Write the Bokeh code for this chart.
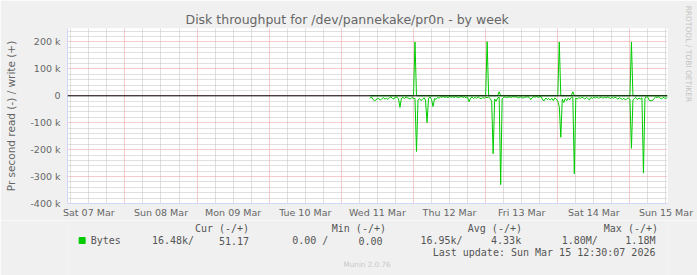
import math
from bokeh.plotting import figure
from bokeh.layouts import column
from bokeh.models import Range1d, FixedTicker, Label, Span, ColumnDataSource
from bokeh.embed import file_html
from bokeh.resources import INLINE

# ---------------- data ----------------
title_text = "Disk throughput for /dev/pannekake/pr0n - by week"
y_label_text = "Pr second read (-) / write (+)"
day_labels = ["Sat 07 Mar", "Sun 08 Mar", "Mon 09 Mar", "Tue 10 Mar", "Wed 11 Mar",
              "Thu 12 Mar", "Fri 13 Mar", "Sat 14 Mar", "Sun 15 Mar"]
y_tick_values = [-400000, -300000, -200000, -100000, 0, 100000, 200000]
y_tick_labels = ["-400 k", "-300 k", "-200 k", "-100 k", "0", "100 k", "200 k"]

# samples every 30 min, first sample Wed 11 Mar 09:30 (hours counted from Sat 07 Mar 00:00)
series_start_h = 105.5
step_h = 0.5
# read bytes/s in k (plotted negative)
read_k = [10, 4, 13, 18, 16, 9, 11, 16, 10, 7,
          12, 9, 13, 7, 4, 10, 12, 4, 6, 10,
          43, 9, 6, 10, 4, 7, 10, 12, 6, 9,
          10, 207, 16, 10, 18, 13, 7, 16, 100, 10,
          4, 13, 40, 10, 13, 6, 9, 4,
          5, 3, 6, 4, 7, 3, 5, 4, 6, 3,
          5, 7, 4, 3, 6, 4, 8, 5, 22, 8,
          5, 10, 6, 9, 4, 8, 11, 6, 9, 5,
          7, 4, 10, 20, 215, 12, 20, 8, 5, 330,
          10, 6, 4, 7, 5, 4, 6, 3, 5, 4,
          5, 8, 4, 6, 9, 5, 5, 4, 6, 14,
          7, 4, 5, 3, 6, 4, 3, 16, 18, 8,
          14, 10, 16, 9, 18, 8, 12, 20, 40, 154,
          12, 25, 10, 18, 8, 15, 6, 4, 290, 8,
          12, 6, 10, 5, 8, 12, 6, 10, 15, 6,
          10, 6, 8, 5, 9, 7, 5, 9, 6, 8,
          5, 7, 10, 6, 9, 5, 8, 12, 7, 10,
          14, 9, 16, 10, 8, 12, 195, 15, 10, 6,
          14, 8, 12, 7, 287, 8, 4, 6, 18, 18,
          18, 10, 5, 6, 4, 8, 12, 6, 8, 10,
          5]
# write bytes/s in k
write_k = [0.2, 0.1, 0.3, 0.2, 0.1, 0.2, 0.4, 0.2, 0.1, 0.3,
           0.2, 0.1, 0.2, 0.3, 0.1, 0.2, 0.5, 0.2, 0.1, 0.2,
           0.3, 0.2, 0.1, 0.2, 0.4, 0.2, 0.1, 0.3, 0.2, 0.1,
           200.0, 0.4, 0.2, 0.3, 0.1, 0.2, 0.6, 0.2, 0.1, 0.3,
           0.2, 0.1, 0.2, 0.3, 0.2, 0.1, 0.2, 0.4, 0.2, 0.1,
           0.3, 0.2, 0.1, 0.2, 0.3, 0.1, 0.2, 0.2, 0.4, 0.1,
           0.2, 0.3, 0.1, 0.2, 0.2, 0.1, 0.3, 0.2, 0.1, 0.2,
           0.4, 0.2, 0.1, 0.3, 0.2, 0.1, 0.2, 0.3, 201.0, 0.5,
           0.2, 0.1, 0.3, 0.2, 0.4, 0.2, 15.0, 0.3, 0.2, 0.1,
           0.2, 0.3, 0.1, 0.2, 0.2, 0.1, 0.3, 0.2, 0.1, 0.2,
           0.3, 0.1, 0.2, 0.2, 0.4, 0.1, 0.2, 0.3, 0.1, 0.2,
           0.2, 0.1, 0.3, 0.2, 0.1, 0.2, 0.4, 0.2, 0.1, 0.3,
           0.2, 0.1, 0.2, 0.3, 0.2, 0.1, 200.0, 0.4, 0.2, 0.3,
           0.1, 0.2, 0.3, 0.2, 0.1, 15.0, 0.3, 0.2, 0.1, 0.2,
           0.3, 0.2, 0.1, 0.2, 0.4, 0.2, 0.1, 0.3, 0.2, 0.1,
           0.2, 0.3, 0.1, 0.2, 0.2, 0.1, 0.3, 0.2, 0.1, 0.2,
           0.4, 0.2, 0.1, 0.3, 0.2, 0.1, 0.2, 0.3, 0.2, 0.1,
           0.2, 0.3, 0.1, 0.2, 200.0, 0.5, 0.2, 0.1, 0.3, 0.2,
           0.1, 0.2, 0.3, 0.2, 0.1, 0.2, 0.2, 0.1, 0.3, 0.2,
           0.1, 0.2, 0.1, 0.2, 0.1, 0.1, 0.05, 0.05, 0.05]

legend_header = ["Cur (-/+)", "Min (-/+)", "Avg (-/+)", "Max (-/+)"]
legend_name = "Bytes"
legend_values = ["16.48k/", "51.17", "0.00 /", "0.00", "16.95k/", "4.33k", "1.80M/", "1.18M"]
last_update = "Last update: Sun Mar 15 12:30:07 2026"
munin_version = "Munin 2.0.76"
watermark = "RRDTOOL / TOBI OETIKER"

# ---------------- layout ----------------
W = 697
H_TOP, H_BOT = 220, 55
FL, FT, FW, FH = 67, 28, 600, 176
X0, X1 = 4.9, 204.5
Y0, Y1 = -400000, 250000

def dx(px):
    return X0 + (px - FL) / FW * (X1 - X0)

def dy(py):
    return Y1 - (py - FT) / FH * (Y1 - Y0)

FONT = "#666666"
LEGEND_FONT = "#555555"
GREEN = "#00cc00"
AXIS = "#cfd6f8"
BACK = "#f0f0f0"

hours = [series_start_h + step_h * i for i in range(len(read_k))]
src = ColumnDataSource(dict(
    h=hours,
    read=[-v * 1000 for v in read_k],
    write=[v * 1000 for v in write_k],
))

p = figure(width=W, height=H_TOP, x_range=Range1d(X0, X1), y_range=Range1d(Y0, Y1),
           output_backend="svg", toolbar_location=None,
           min_border_left=FL, min_border_right=W - FL - FW,
           min_border_top=FT, min_border_bottom=H_TOP - FT - FH,
           background_fill_color="white", border_fill_color=BACK,
           outline_line_color=None)

# title
p.title.text = title_text
p.title.align = "left"
p.title.offset = 118
p.title.text_font = "DejaVu Sans"
p.title.text_font_size = "12.5px"
p.title.text_font_style = "normal"
p.title.text_color = FONT
p.title.standoff = 3

# watermark on the right side (in the right side panel, so it is not clipped to the frame)
p.add_layout(Label(x=dx(688), y=dy(5), text=watermark, angle=-math.pi / 2,
                   text_align="left", text_baseline="middle", text_font="DejaVu Sans",
                   text_font_size="7.5px", text_color="#c4c4c4"), "right")

midnights = [24 * d for d in range(1, 9)]
six_h = [6 * k for k in range(1, 35) if (6 * k) % 24 != 0]
noons = [12 + 24 * d for d in range(len(day_labels))]
y_minor = [v for v in range(-380000, 250000, 20000) if v % 100000 != 0]

# grids
p.xgrid.ticker = FixedTicker(ticks=midnights, minor_ticks=six_h)
p.ygrid.ticker = FixedTicker(ticks=y_tick_values, minor_ticks=y_minor)
for g in (p.xgrid, p.ygrid):
    g.grid_line_color = "#f09898"
    g.grid_line_dash = "1 1"
    g.grid_line_width = 1
    g.minor_grid_line_color = "#c0c0c0"
    g.minor_grid_line_dash = "1 1"
    g.minor_grid_line_width = 1

# axes
p.xaxis.ticker = FixedTicker(ticks=noons)
p.xaxis.major_label_overrides = dict(zip(noons, day_labels))
p.xaxis.bounds = (X0, dx(673))
p.yaxis.ticker = FixedTicker(ticks=y_tick_values)
p.yaxis.major_label_overrides = dict(zip(y_tick_values, y_tick_labels))
p.yaxis.bounds = (Y0, dy(22))
for ax in (p.xaxis, p.yaxis):
    ax.major_tick_line_color = None
    ax.minor_tick_line_color = None
    ax.major_tick_out = 0
    ax.major_tick_in = 0
    ax.axis_line_color = AXIS
    ax.axis_line_width = 1
    ax.major_label_text_font = "DejaVu Sans"
    ax.major_label_text_font_size = "9.5px"
    ax.major_label_text_color = FONT
p.xaxis.major_label_standoff = 3
p.yaxis.major_label_standoff = 7
p.yaxis.axis_label = y_label_text
p.yaxis.axis_label_text_font = "DejaVu Sans"
p.yaxis.axis_label_text_font_size = "10.5px"
p.yaxis.axis_label_text_font_style = "normal"
p.yaxis.axis_label_text_color = FONT
p.yaxis.axis_label_standoff = 10

# data
p.line("h", "read", source=src, line_color=GREEN, line_width=1)
p.line("h", "write", source=src, line_color=GREEN, line_width=1)
p.add_layout(Span(location=0, dimension="width", line_color="black", line_width=1))

# ---------------- legend strip (canvas pixels, y downward from 220) ----------------
p2 = figure(width=W, height=H_BOT, x_range=Range1d(0, W), y_range=Range1d(H_BOT, 0),
            output_backend="svg", toolbar_location=None,
            min_border=0, x_axis_location=None, y_axis_location=None,
            background_fill_color=BACK, border_fill_color=BACK, outline_line_color=None)
p2.grid.visible = False

def lab(text, px, py, align="left", size="10px", font="DejaVu Sans Mono", color=LEGEND_FONT):
    p2.add_layout(Label(x=px, y=py - H_TOP, text=text, text_align=align,
                        text_baseline="middle", text_font_size=size, text_font=font,
                        text_color=color))

header_x = [148, 307, 465, 623]
for t, x in zip(legend_header, header_x):
    lab(t, x, 227.5)
lab(legend_name, 27, 240)
value_right = [147, 211, 303, 366, 459, 527, 616, 683]
for t, x in zip(legend_values, value_right):
    lab(t, x, 240, align="right")
lab(last_update, 683, 252, align="right")
lab(munin_version, 348, 264, align="center", size="7.2px", font="DejaVu Sans", color="#c8c8c8")

p2.scatter(x=[17], y=[240 - H_TOP], marker="square", size=6, fill_color=GREEN, line_color=GREEN)

layout = column(p, p2, spacing=0)
open("out.html", "w").write(file_html(layout, INLINE))
